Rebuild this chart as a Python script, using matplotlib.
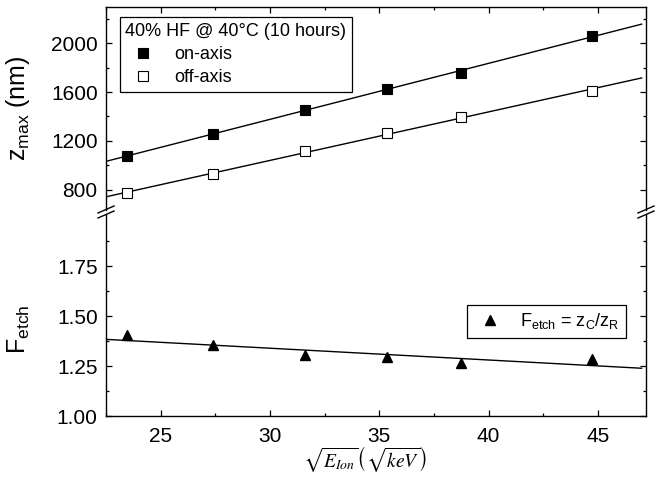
import numpy as np
import matplotlib
matplotlib.use('Agg')
import matplotlib.pyplot as plt
from matplotlib.ticker import MultipleLocator, FixedLocator, FormatStrFormatter

plt.rcParams.update({'font.family': 'Liberation Sans',
                     'mathtext.fontset': 'custom',
                     'mathtext.rm': 'Liberation Sans',
                     'mathtext.it': 'Liberation Sans:italic',
                     'font.size': 14,
                     'axes.linewidth': 1.0})

# data
sqrt_e = [23.45, 27.39, 31.62, 35.36, 38.73, 44.72]
z_on = [1077, 1258, 1449, 1627, 1759, 2063]
z_off = [770, 926, 1118, 1263, 1392, 1611]
f_etch = [1.405, 1.357, 1.305, 1.294, 1.266, 1.286]

W, H = 668, 483
fig = plt.figure(figsize=(W/100., H/100.), dpi=100)
L, R = 106, 646
ax_top = fig.add_axes([L/W, 1-209.5/H, (R-L)/W, (209.5-7)/H])
ax_bot = fig.add_axes([L/W, 1-416/H, (R-L)/W, (416-214.5)/H])

xfit = np.array([22.0, 47.0])
p_on = np.polyfit(sqrt_e, z_on, 1)
p_off = np.polyfit(sqrt_e, z_off, 1)
p_f = np.polyfit(sqrt_e, f_etch, 1)

ax_top.plot(xfit, np.polyval(p_on, xfit), color='black', lw=1.0)
ax_top.plot(xfit, np.polyval(p_off, xfit), color='black', lw=1.0)
ax_top.plot(sqrt_e, z_on, 's', color='black', ms=7, mew=0.8, label='on-axis')
ax_top.plot(sqrt_e, z_off, 's', mfc='white', mec='black', ms=7, mew=0.8, label='off-axis')

ax_bot.plot(xfit, np.polyval(p_f, xfit), color='black', lw=1.0)
ax_bot.plot(sqrt_e, f_etch, '^', color='black', ms=7.5, label=r'F$_{\mathrm{etch}}$ = z$_{\mathrm{C}}$/z$_{\mathrm{R}}$')

for a in (ax_top, ax_bot):
    a.set_xlim(22.5, 47.2)
    a.xaxis.set_major_locator(MultipleLocator(5))
    a.xaxis.set_minor_locator(MultipleLocator(2.5))
    a.tick_params(which='both', direction='in', right=True, width=0.9)
    a.tick_params(which='major', length=4.5, labelsize=15)
    a.tick_params(which='minor', length=2.3)
    a.tick_params(axis='y', which='major', pad=6)
    a.tick_params(axis='x', which='major', pad=8)

ax_top.set_ylim(636, 2298)
ax_top.yaxis.set_major_locator(MultipleLocator(400))
ax_top.yaxis.set_minor_locator(MultipleLocator(200))
ax_top.spines['bottom'].set_visible(False)
ax_top.tick_params(which='both', top=True, bottom=False, labelbottom=False)
ax_top.set_ylabel(r'z$_{\mathrm{max}}$ (nm)', fontsize=18)
ax_top.yaxis.set_label_coords(-0.137, 0.5)

ax_bot.set_ylim(1.0, 2.01)
ax_bot.yaxis.set_major_locator(FixedLocator([1.0, 1.25, 1.5, 1.75]))
ax_bot.yaxis.set_minor_locator(FixedLocator([1.125, 1.375, 1.625, 1.875]))
ax_bot.yaxis.set_major_formatter(FormatStrFormatter('%.2f'))
ax_bot.spines['top'].set_visible(False)
ax_bot.tick_params(which='both', top=False)
ax_bot.set_ylabel(r'F$_{\mathrm{etch}}$', fontsize=18)
ax_bot.yaxis.set_label_coords(-0.137, 0.43)
ax_bot.set_xlabel(r'$\sqrt{E_{Ion}}\left(\sqrt{keV}\right)$', fontsize=14,
                  math_fontfamily='stix')
ax_bot.xaxis.set_label_coords(0.48, -0.14)

leg = ax_top.legend(loc='upper left', bbox_to_anchor=(0.026, 0.95), fontsize=13,
                    title='40% HF @ 40°C (10 hours)', title_fontsize=13,
                    fancybox=False, edgecolor='black', framealpha=1,
                    handletextpad=0.8, borderpad=0.3, labelspacing=0.35,
                    handlelength=1.9, borderaxespad=0)
leg._legend_box.align = 'left'
leg.get_frame().set_linewidth(0.9)

leg2 = ax_bot.legend(loc='upper right', bbox_to_anchor=(0.963, 0.55), fontsize=13,
                     fancybox=False, edgecolor='black', framealpha=1,
                     handletextpad=0.8, borderpad=0.35, handlelength=1.8,
                     borderaxespad=0)
leg2.get_frame().set_linewidth(0.9)

# break marks on both spines
yb = 212.0
for xs in (L, R):
    for dy in (-2.5, 2.5):
        y = yb + dy
        fig.add_artist(matplotlib.lines.Line2D(
            [(xs-8)/W, (xs+8)/W], [1-(y+3.5)/H, 1-(y-3.5)/H],
            color='black', lw=1.0))

fig.savefig('out.png', dpi=100)
